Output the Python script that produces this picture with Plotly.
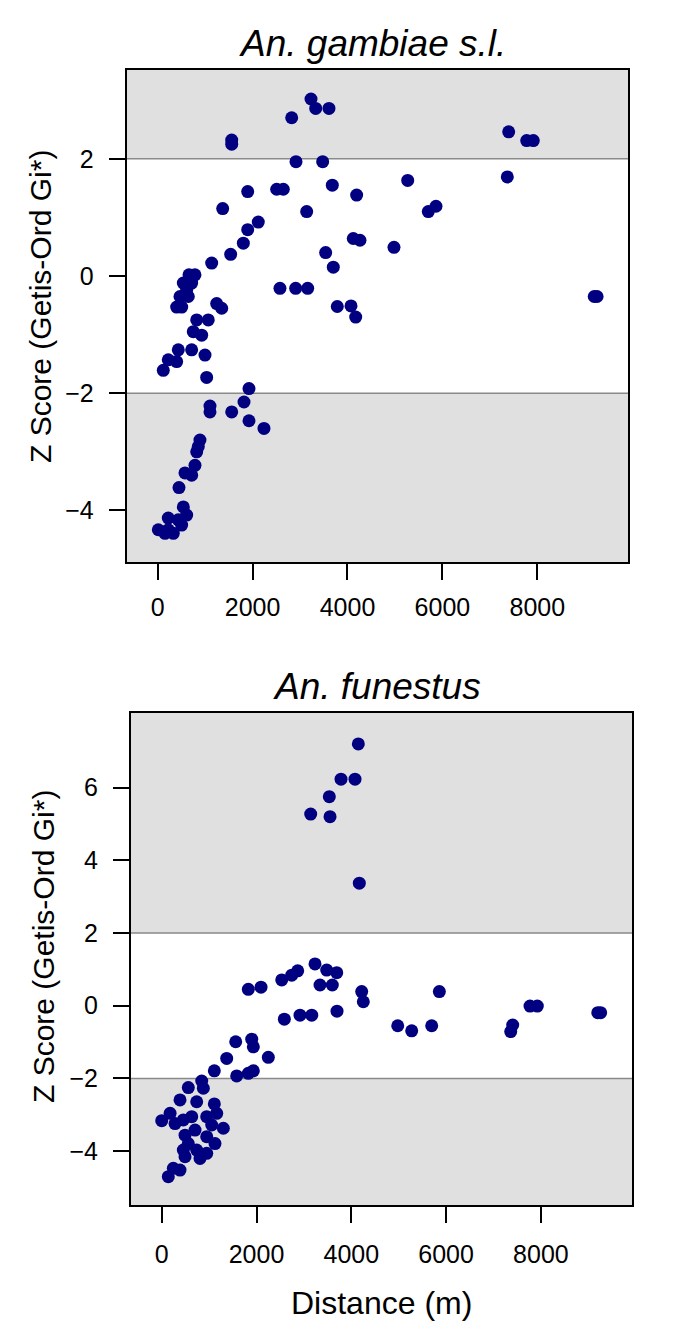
import plotly.graph_objects as go

# An. gambiae s.l. (top panel)
gam_dist = [3231, 3330, 3610, 2824, 1560, 1560, 2915, 3477, 3680, 4193, 1897, 2508, 2647,
            1370, 3140, 2120, 1897, 1805, 1538, 1138, 4122, 4263, 3540, 3701, 660, 786,
            540, 716, 611, 470, 645, 400, 506, 1243, 1349, 2577, 2908, 3161, 3785, 4074,
            4173, 822, 1066, 750, 927, 434, 716, 997, 223, 400, 118, 1032, 1924, 1819,
            1102, 1102, 1560, 1924, 2240, 891, 856, 822, 786, 575, 716, 449, 540, 611,
            223, 434, 13, 223, 329, 154, 505, 7397, 7777, 7916, 7368, 5269, 5703, 5865,
            4980, 9200, 9260]
gam_z = [3.02, 2.86, 2.86, 2.70, 2.32, 2.25, 1.95, 1.95, 1.55, 1.38, 1.44, 1.48, 1.48,
         1.15, 1.10, 0.92, 0.79, 0.56, 0.37, 0.22, 0.64, 0.61, 0.40, 0.15, 0.02, 0.02,
         -0.12, -0.12, -0.24, -0.35, -0.35, -0.53, -0.53, -0.47, -0.55, -0.21, -0.21, -0.21,
         -0.52, -0.51, -0.70, -0.75, -0.75, -0.95, -1.01, -1.26, -1.26, -1.35, -1.43, -1.46,
         -1.61, -1.73, -1.92, -2.15, -2.22, -2.32, -2.32, -2.47, -2.60, -2.80, -2.91, -3.00,
         -3.23, -3.36, -3.40, -3.61, -3.94, -4.08, -4.13, -4.16, -4.33, -4.33, -4.39, -4.39,
         -4.25, 2.46, 2.31, 2.31, 1.69, 1.63, 1.10, 1.19, 0.49, -0.35, -0.35]

# An. funestus (bottom panel)
fun_dist = [4148, 3783, 4078, 3536, 3143, 3551, 4169, 3234, 3481, 3692, 2869, 2743, 2532,
            3340, 3599, 1827, 2095, 4219, 4253, 3698, 2587, 2918, 3165, 1561, 1899, 1933,
            1371, 2249, 1110, 1582, 1827, 1933, 844, 561, 878, 738, 386, 1110, 0, 177, 281,
            456, 633, 949, 1160, 1055, 1300, 492, 703, 949, 561, 1124, 456, 808, 949, 386,
            139, 245, 738, 492, 5857, 4979, 5274, 5696, 7405, 7363, 7770, 7924, 9200, 9260]
fun_z = [7.20, 6.23, 6.23, 5.75, 5.27, 5.20, 3.37, 1.15, 0.98, 0.91, 0.96, 0.84, 0.71,
         0.57, 0.57, 0.45, 0.51, 0.39, 0.11, -0.15, -0.37, -0.26, -0.26, -0.99, -0.92, -1.13,
         -1.45, -1.42, -1.79, -1.93, -1.86, -1.79, -2.07, -2.25, -2.27, -2.64, -2.59, -2.70,
         -3.16, -2.96, -3.24, -3.14, -3.05, -3.05, -2.96, -3.28, -3.37, -3.56, -3.42, -3.60,
         -3.79, -3.79, -3.97, -4.20, -4.06, -4.52, -4.70, -4.47, -3.97, -4.15, 0.39, -0.55,
         -0.69, -0.55, -0.53, -0.71, -0.01, -0.01, -0.19, -0.19]

x_ticks = [0, 2000, 4000, 6000, 8000]
gam_yticks = [-4, -2, 0, 2]
fun_yticks = [-4, -2, 0, 2, 4, 6]

FONT = "Liberation Sans, Arial, sans-serif"
NAVY = "#000080"
GREY_BG = "#e0e0e0"

W, H = 685, 1339
OFF = 8  # default page body margin


def px_x(p):
    return (p - OFF) / W


def px_y(p):
    return 1 - (p - OFF) / H


def minus(v):
    return str(v).replace("-", "\u2212")


fig = go.Figure()
fig.add_trace(go.Scatter(x=gam_dist, y=gam_z, mode="markers", xaxis="x", yaxis="y",
                         marker=dict(color=NAVY, size=13, line=dict(width=0))))
fig.add_trace(go.Scatter(x=fun_dist, y=fun_z, mode="markers", xaxis="x2", yaxis="y2",
                         marker=dict(color=NAVY, size=13, line=dict(width=0))))

axis_common = dict(showline=True, linecolor="black", linewidth=2, mirror=True,
                   ticks="outside", ticklen=16, tickwidth=2, tickcolor="black",
                   showgrid=False, zeroline=False,
                   tickfont=dict(family=FONT, size=25, color="black"))

shapes = []
for ya in ["y", "y2"]:
    xd = ya.replace("y", "x") + " domain"
    shapes.append(dict(type="rect", xref=xd, yref=ya, x0=0, x1=1, y0=-2, y1=2,
                       fillcolor="white", line=dict(width=0), layer="below"))
    for yv in [-2, 2]:
        shapes.append(dict(type="line", xref=xd, yref=ya, x0=0, x1=1, y0=yv, y1=yv,
                           line=dict(color="#8a8a8a", width=1.5), layer="below"))


def label(text, x, y, size, angle=0):
    return dict(text=text, xref="paper", yref="paper", x=px_x(x), y=px_y(y),
                xanchor="center", yanchor="middle", textangle=angle, showarrow=False,
                font=dict(family=FONT, size=size, color="black"))


fig.update_layout(
    width=W, height=H, autosize=False,
    margin=dict(l=0, r=0, t=0, b=0),
    paper_bgcolor="white", plot_bgcolor=GREY_BG,
    showlegend=False,
    xaxis=dict(domain=[px_x(126.7), px_x(628.3)], range=[-653, 9918], anchor="y",
               tickvals=x_ticks, ticklabelstandoff=6, **axis_common),
    yaxis=dict(domain=[px_y(562), px_y(70)], range=[-4.88, 3.515], anchor="x",
               tickvals=gam_yticks, ticktext=[minus(v) for v in gam_yticks],
               ticklabelstandoff=10, **axis_common),
    xaxis2=dict(domain=[px_x(131), px_x(632.3)], range=[-648, 9928], anchor="y2",
                tickvals=x_ticks, ticklabelstandoff=10, **axis_common),
    yaxis2=dict(domain=[px_y(1205), px_y(713)], range=[-5.48, 8.05], anchor="x2",
                tickvals=fun_yticks, ticktext=[minus(v) for v in fun_yticks],
                ticklabelstandoff=10, **axis_common),
    shapes=shapes,
    annotations=[
        label("<i>An. gambiae s.l.</i>", 372, 43, 37),
        label("<i>An. funestus</i>", 377, 686, 37),
        label("Z Score (Getis-Ord Gi*)", 40, 307, 30, -90),
        label("Z Score (Getis-Ord Gi*)", 43, 947, 30, -90),
        label("Distance (m)", 381, 1303, 32),
    ],
)

fig.write_html("out.html")
